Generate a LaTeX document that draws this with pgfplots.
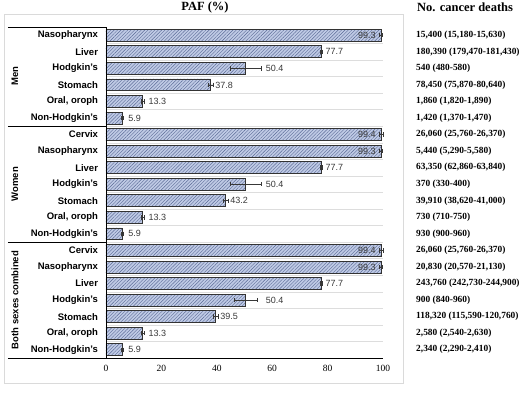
\documentclass[border=0pt]{standalone}
\usepackage{pgfplots}
\pgfplotsset{compat=1.18}
\usepackage{pgfplotstable}
\usepackage{fontspec}
\setmainfont{Liberation Sans}
\newfontfamily\serif{Liberation Serif}
\usetikzlibrary{patterns.meta}
\definecolor{barfill}{HTML}{BFCAE5}
\definecolor{hatch}{HTML}{5A6A96}
\definecolor{framec}{HTML}{DADADA}
\definecolor{gridc}{HTML}{DDDDDD}
\definecolor{lab}{HTML}{383838}

\pgfplotstableread{
y val err
19 99.3 0.6
18 77.7 0.5
17 50.4 5.6
16 37.8 1.0
15 13.3 0.4
14 5.9 0.2
13 99.4 0.6
12 99.3 0.6
11 77.7 0.5
10 50.4 5.6
9 43.2 1.0
8 13.3 0.4
7 5.9 0.2
6 99.4 0.6
5 99.3 0.6
4 77.7 0.5
3 50.4 4.2
2 39.5 0.9
1 13.3 0.4
0 5.9 0.2
}\paf

\begin{document}
\begin{tikzpicture}[x=1pt,y=1pt]
\useasboundingbox (0,0) rectangle (528,392);
\draw[framec, line width=0.8pt] (4,9) rectangle (403,378);
\begin{axis}[
  at={(106pt,34pt)}, anchor=south west, scale only axis,
  width=277pt, height=331pt,
  xbar, bar width=0.72,
  xmin=0, xmax=100, ymin=-0.5, ymax=19.5,
  axis line style={draw=none},
  major tick length=0pt, minor tick length=0pt,
  xtick={0,20,...,100},
  /pgf/number format/assume math mode=true,
  xticklabel style={font=\serif\fontsize{9.5}{11}\selectfont, yshift=-4pt},
  ytick={0,...,19},
  yticklabels={Non-Hodgkin's, {Oral, oroph}, Stomach, Hodgkin's, Liver, Nasopharynx, Cervix,
               Non-Hodgkin's, {Oral, oroph}, Stomach, Hodgkin's, Liver, Nasopharynx, Cervix,
               Non-Hodgkin's, {Oral, oroph}, Stomach, Hodgkin's, Liver, Nasopharynx},
  yticklabel style={font=\bfseries\fontsize{9.5}{11}\selectfont, xshift=-4.5pt},
  minor ytick={0.5,1.5,...,18.5},
  yminorgrids, minor grid style={gridc, line width=0.6pt},
  clip=false,
]
\addplot[draw=black!80, line width=0.8pt, fill=barfill,
  postaction={pattern={Lines[angle=45,distance=2.4pt,line width=0.4pt]}, pattern color=hatch},
  error bars/.cd, x dir=both, x explicit,
  error bar style={lab, line width=0.6pt},
  error mark options={lab, line width=0.6pt, mark size=2.2pt, rotate=90}]
  table[x=val, y=y, x error=err] {\paf};

% left axis and bottom axis
\draw[black, line width=0.9pt] (axis cs:0,-0.5) -- (axis cs:0,19.5);
\draw[black, line width=0.9pt] ([xshift=-98pt]axis cs:0,-0.5) -- (axis cs:100,-0.5);
\draw[black, line width=0.9pt] ([xshift=-98pt]axis cs:0,19.5) -- (axis cs:0,19.5);
\draw[black, line width=0.9pt] ([xshift=-98pt]axis cs:0,13.5) -- (axis cs:0,13.5);
\draw[black, line width=0.9pt] ([xshift=-98pt]axis cs:0,6.5) -- (axis cs:0,6.5);

% value labels
\begin{scope}[every node/.style={font=\fontsize{9}{10}\selectfont, text=lab, inner sep=0pt}]
\node[anchor=east] at (axis cs:97.4,19) {99.3};
\node[anchor=west] at (axis cs:79.2,18) {77.7};
\node[anchor=west] at (axis cs:57.6,17) {50.4};
\node[anchor=west] at (axis cs:39.4,16) {37.8};
\node[anchor=west] at (axis cs:15.3,15) {13.3};
\node[anchor=west] at (axis cs:8.0,14) {5.9};
\node[anchor=east] at (axis cs:97.4,13) {99.4};
\node[anchor=east] at (axis cs:97.4,12) {99.3};
\node[anchor=west] at (axis cs:79.2,11) {77.7};
\node[anchor=west] at (axis cs:57.6,10) {50.4};
\node[anchor=west] at (axis cs:44.8,9) {43.2};
\node[anchor=west] at (axis cs:15.3,8) {13.3};
\node[anchor=west] at (axis cs:8.0,7) {5.9};
\node[anchor=east] at (axis cs:97.4,6) {99.4};
\node[anchor=east] at (axis cs:97.4,5) {99.3};
\node[anchor=west] at (axis cs:79.2,4) {77.7};
\node[anchor=west] at (axis cs:57.6,3) {50.4};
\node[anchor=west] at (axis cs:41.2,2) {39.5};
\node[anchor=west] at (axis cs:15.3,1) {13.3};
\node[anchor=west] at (axis cs:8.0,0) {5.9};
\end{scope}

% right column
\begin{scope}[every node/.style={font=\serif\bfseries\fontsize{9.4}{11}\selectfont, inner sep=0pt, anchor=west}]
\node at ([xshift=33pt]axis cs:100,19) {15,400 (15,180-15,630)};
\node at ([xshift=33pt]axis cs:100,18) {180,390 (179,470-181,430)};
\node at ([xshift=33pt]axis cs:100,17) {540 (480-580)};
\node at ([xshift=33pt]axis cs:100,16) {78,450 (75,870-80,640)};
\node at ([xshift=33pt]axis cs:100,15) {1,860 (1,820-1,890)};
\node at ([xshift=33pt]axis cs:100,14) {1,420 (1,370-1,470)};
\node at ([xshift=33pt]axis cs:100,13) {26,060 (25,760-26,370)};
\node at ([xshift=33pt]axis cs:100,12) {5,440 (5,290-5,580)};
\node at ([xshift=33pt]axis cs:100,11) {63,350 (62,860-63,840)};
\node at ([xshift=33pt]axis cs:100,10) {370 (330-400)};
\node at ([xshift=33pt]axis cs:100,9) {39,910 (38,620-41,000)};
\node at ([xshift=33pt]axis cs:100,8) {730 (710-750)};
\node at ([xshift=33pt]axis cs:100,7) {930 (900-960)};
\node at ([xshift=33pt]axis cs:100,6) {26,060 (25,760-26,370)};
\node at ([xshift=33pt]axis cs:100,5) {20,830 (20,570-21,130)};
\node at ([xshift=33pt]axis cs:100,4) {243,760 (242,730-244,900)};
\node at ([xshift=33pt]axis cs:100,3) {900 (840-960)};
\node at ([xshift=33pt]axis cs:100,2) {118,320 (115,590-120,760)};
\node at ([xshift=33pt]axis cs:100,1) {2,580 (2,540-2,630)};
\node at ([xshift=33pt]axis cs:100,0) {2,340 (2,290-2,410)};
\end{scope}
\end{axis}

% group labels
\begin{scope}[every node/.style={font=\bfseries\fontsize{9.5}{11}\selectfont, rotate=90, inner sep=0pt}]
\node at (15,316) {Men};
\node at (15,208) {Women};
\node at (15,92) {Both sexes combined};
\end{scope}

% headers
\node[font=\serif\bfseries\fontsize{12.5}{14}\selectfont, inner sep=0pt] at (205,385) {PAF (\%)};
\node[font=\serif\bfseries\fontsize{12.5}{14}\selectfont, inner sep=0pt, anchor=west] at (417,385) {No. cancer deaths};
\end{tikzpicture}
\end{document}
